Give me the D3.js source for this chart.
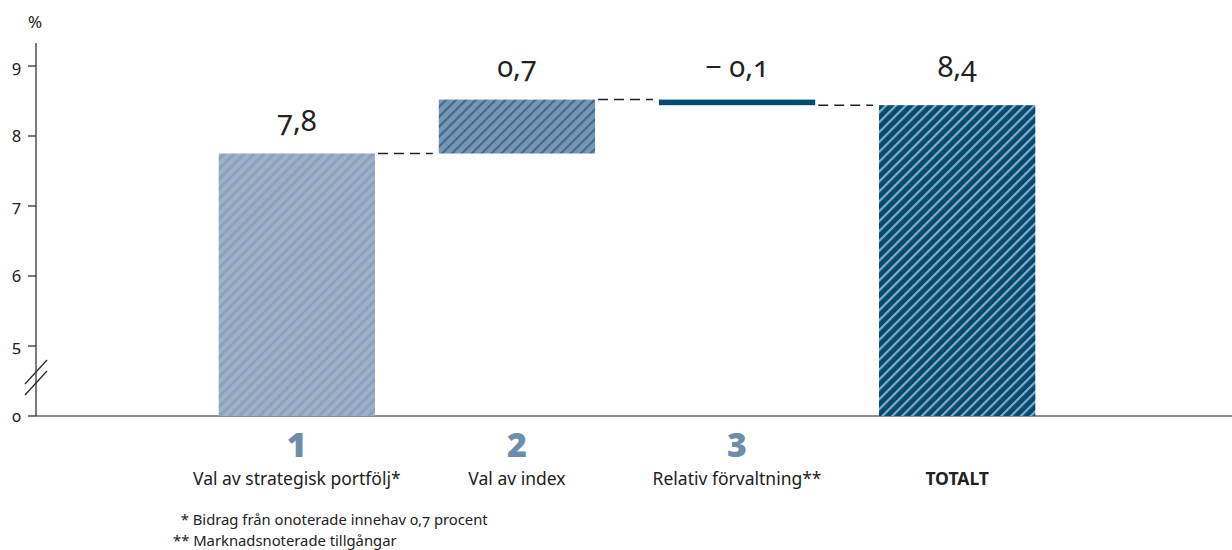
<!DOCTYPE html>
<html>
<head>
<meta charset="utf-8">
<script src="https://cdn.jsdelivr.net/npm/d3@7"></script>
<style>
  body { margin: 0; background: #fff; }
  svg text { font-family: "Noto Sans", "Open Sans", sans-serif; font-variant-numeric: oldstyle-nums; fill: #222; }
</style>
</head>
<body>
<svg id="chart" width="1232" height="550"></svg>
<script>
// data
var categories = ["Val av strategisk portfölj*", "Val av index", "Relativ förvaltning**", "TOTALT"];
var stepNumbers = ["1", "2", "3", ""];
var contributions = [7.75, 0.77, -0.08];      // drawn heights of steps
var valueLabels = ["7,8", "0,7", "\u2212 0,1", "8,4"];
var tickValues = [4, 5, 6, 7, 8, 9];
var tickLabels = ["0", "5", "6", "7", "8", "9"];
var footnotes = ["  * Bidrag från onoterade innehav 0,7 procent", "** Marknadsnoterade tillgångar"];

var svg = d3.select("#chart");
var defs = svg.append("defs");

function stripes(id, bg, fg, w) {
    var p = defs.append("pattern")
        .attr("id", id)
        .attr("patternUnits", "userSpaceOnUse")
        .attr("width", 7).attr("height", 7)
        .attr("patternTransform", "rotate(45)");
    p.append("rect").attr("width", 7).attr("height", 7).attr("fill", bg);
    p.append("rect").attr("x", 0).attr("width", w).attr("height", 7).attr("fill", fg);
}
stripes("p1", "#9db1c8", "#8aa2bc", 3);
stripes("p2", "#7896b1", "#3f6c8c", 2.2);
stripes("p4", "#004b70", "#8ea8c1", 2.2);

// scales
var x = d3.scaleBand().domain(categories).range([36, 1218]).paddingInner(0.29).paddingOuter(0.83);
var y = d3.scaleLinear().domain([4, 9]).range([416, 66]);

// build waterfall steps
var steps = [];
var run = 0;
contributions.forEach(function(v, i) {
    steps.push({cat: categories[i], start: run, end: run + v});
    run += v;
});
steps.push({cat: categories[3], start: 4, end: run, total: true});
var fills = ["url(#p1)", "url(#p2)", "#004b6e", "url(#p4)"];

// axes
svg.append("line").attr("x1", 36).attr("x2", 1232).attr("y1", y(4)).attr("y2", y(4))
    .attr("stroke", "#222").attr("stroke-width", 1.2);
svg.append("line").attr("x1", 36).attr("x2", 36).attr("y1", 43).attr("y2", y(4))
    .attr("stroke", "#222").attr("stroke-width", 1.2);

var ticks = svg.selectAll(".tick").data(tickValues).enter().append("g");
ticks.append("line").attr("x1", 28).attr("x2", 36)
    .attr("y1", function(d) { return y(d); }).attr("y2", function(d) { return y(d); })
    .attr("stroke", "#222").attr("stroke-width", 1.2);
ticks.append("text").attr("x", 21).attr("y", function(d) { return y(d) + 6; })
    .attr("text-anchor", "end").style("font-size", "16.5px")
    .text(function(d, i) { return tickLabels[i]; });
svg.append("text").attr("x", 35).attr("y", 28).attr("text-anchor", "middle")
    .style("font-size", "17px").text("%");

// axis break
[0, 11].forEach(function(o) {
    svg.append("line").attr("x1", 25).attr("y1", 384 + o).attr("x2", 47).attr("y2", 360 + o)
        .attr("stroke", "#222").attr("stroke-width", 1.2);
});

// bars
svg.selectAll(".bar").data(steps).enter().append("rect")
    .attr("x", function(d) { return x(d.cat); })
    .attr("width", x.bandwidth())
    .attr("y", function(d) { return y(Math.max(d.start, d.end, 4)); })
    .attr("height", function(d) {
        return Math.abs(y(Math.max(d.start, 4)) - y(Math.max(d.end, 4)));
    })
    .attr("fill", function(d, i) { return fills[i]; });

// connectors
for (var i = 0; i < steps.length - 1; i++) {
    var lvl = steps[i].end;
    svg.append("line")
        .attr("x1", x(steps[i].cat) + x.bandwidth() + 3)
        .attr("x2", x(steps[i + 1].cat) - 6)
        .attr("y1", y(lvl)).attr("y2", y(lvl))
        .attr("stroke", "#222").attr("stroke-width", 1.5)
        .attr("stroke-dasharray", "10,6");
}

// value labels
svg.selectAll(".val").data(steps).enter().append("text")
    .attr("x", function(d) { return x(d.cat) + x.bandwidth() / 2; })
    .attr("y", function(d, i) { return y(Math.max(d.start, d.end)) - (i == 3 ? 28 : 23); })
    .attr("text-anchor", "middle").style("font-size", "29px")
    .text(function(d, i) { return valueLabels[i]; });

// category numbers and names
svg.selectAll(".num").data(categories).enter().append("text")
    .attr("x", function(d) { return x(d) + x.bandwidth() / 2; })
    .attr("y", 457).attr("text-anchor", "middle")
    .style("font-size", "34px").style("font-weight", "900")
    .style("font-variant-numeric", "lining-nums")
    .style("fill", "#6d8daa")
    .text(function(d, i) { return stepNumbers[i]; });
svg.selectAll(".cat").data(categories).enter().append("text")
    .attr("x", function(d) { return x(d) + x.bandwidth() / 2; })
    .attr("y", 485).attr("text-anchor", "middle")
    .style("font-size", "17.5px")
    .style("font-weight", function(d, i) { return i == 3 ? "bold" : "normal"; })
    .text(function(d) { return d; });

// footnotes
svg.selectAll(".note").data(footnotes).enter().append("text")
    .attr("x", 173).attr("y", function(d, i) { return 525 + i * 21; })
    .attr("xml:space", "preserve")
    .style("white-space", "pre")
    .style("font-size", "14.8px")
    .text(function(d) { return d; });
</script>
</body>
</html>
